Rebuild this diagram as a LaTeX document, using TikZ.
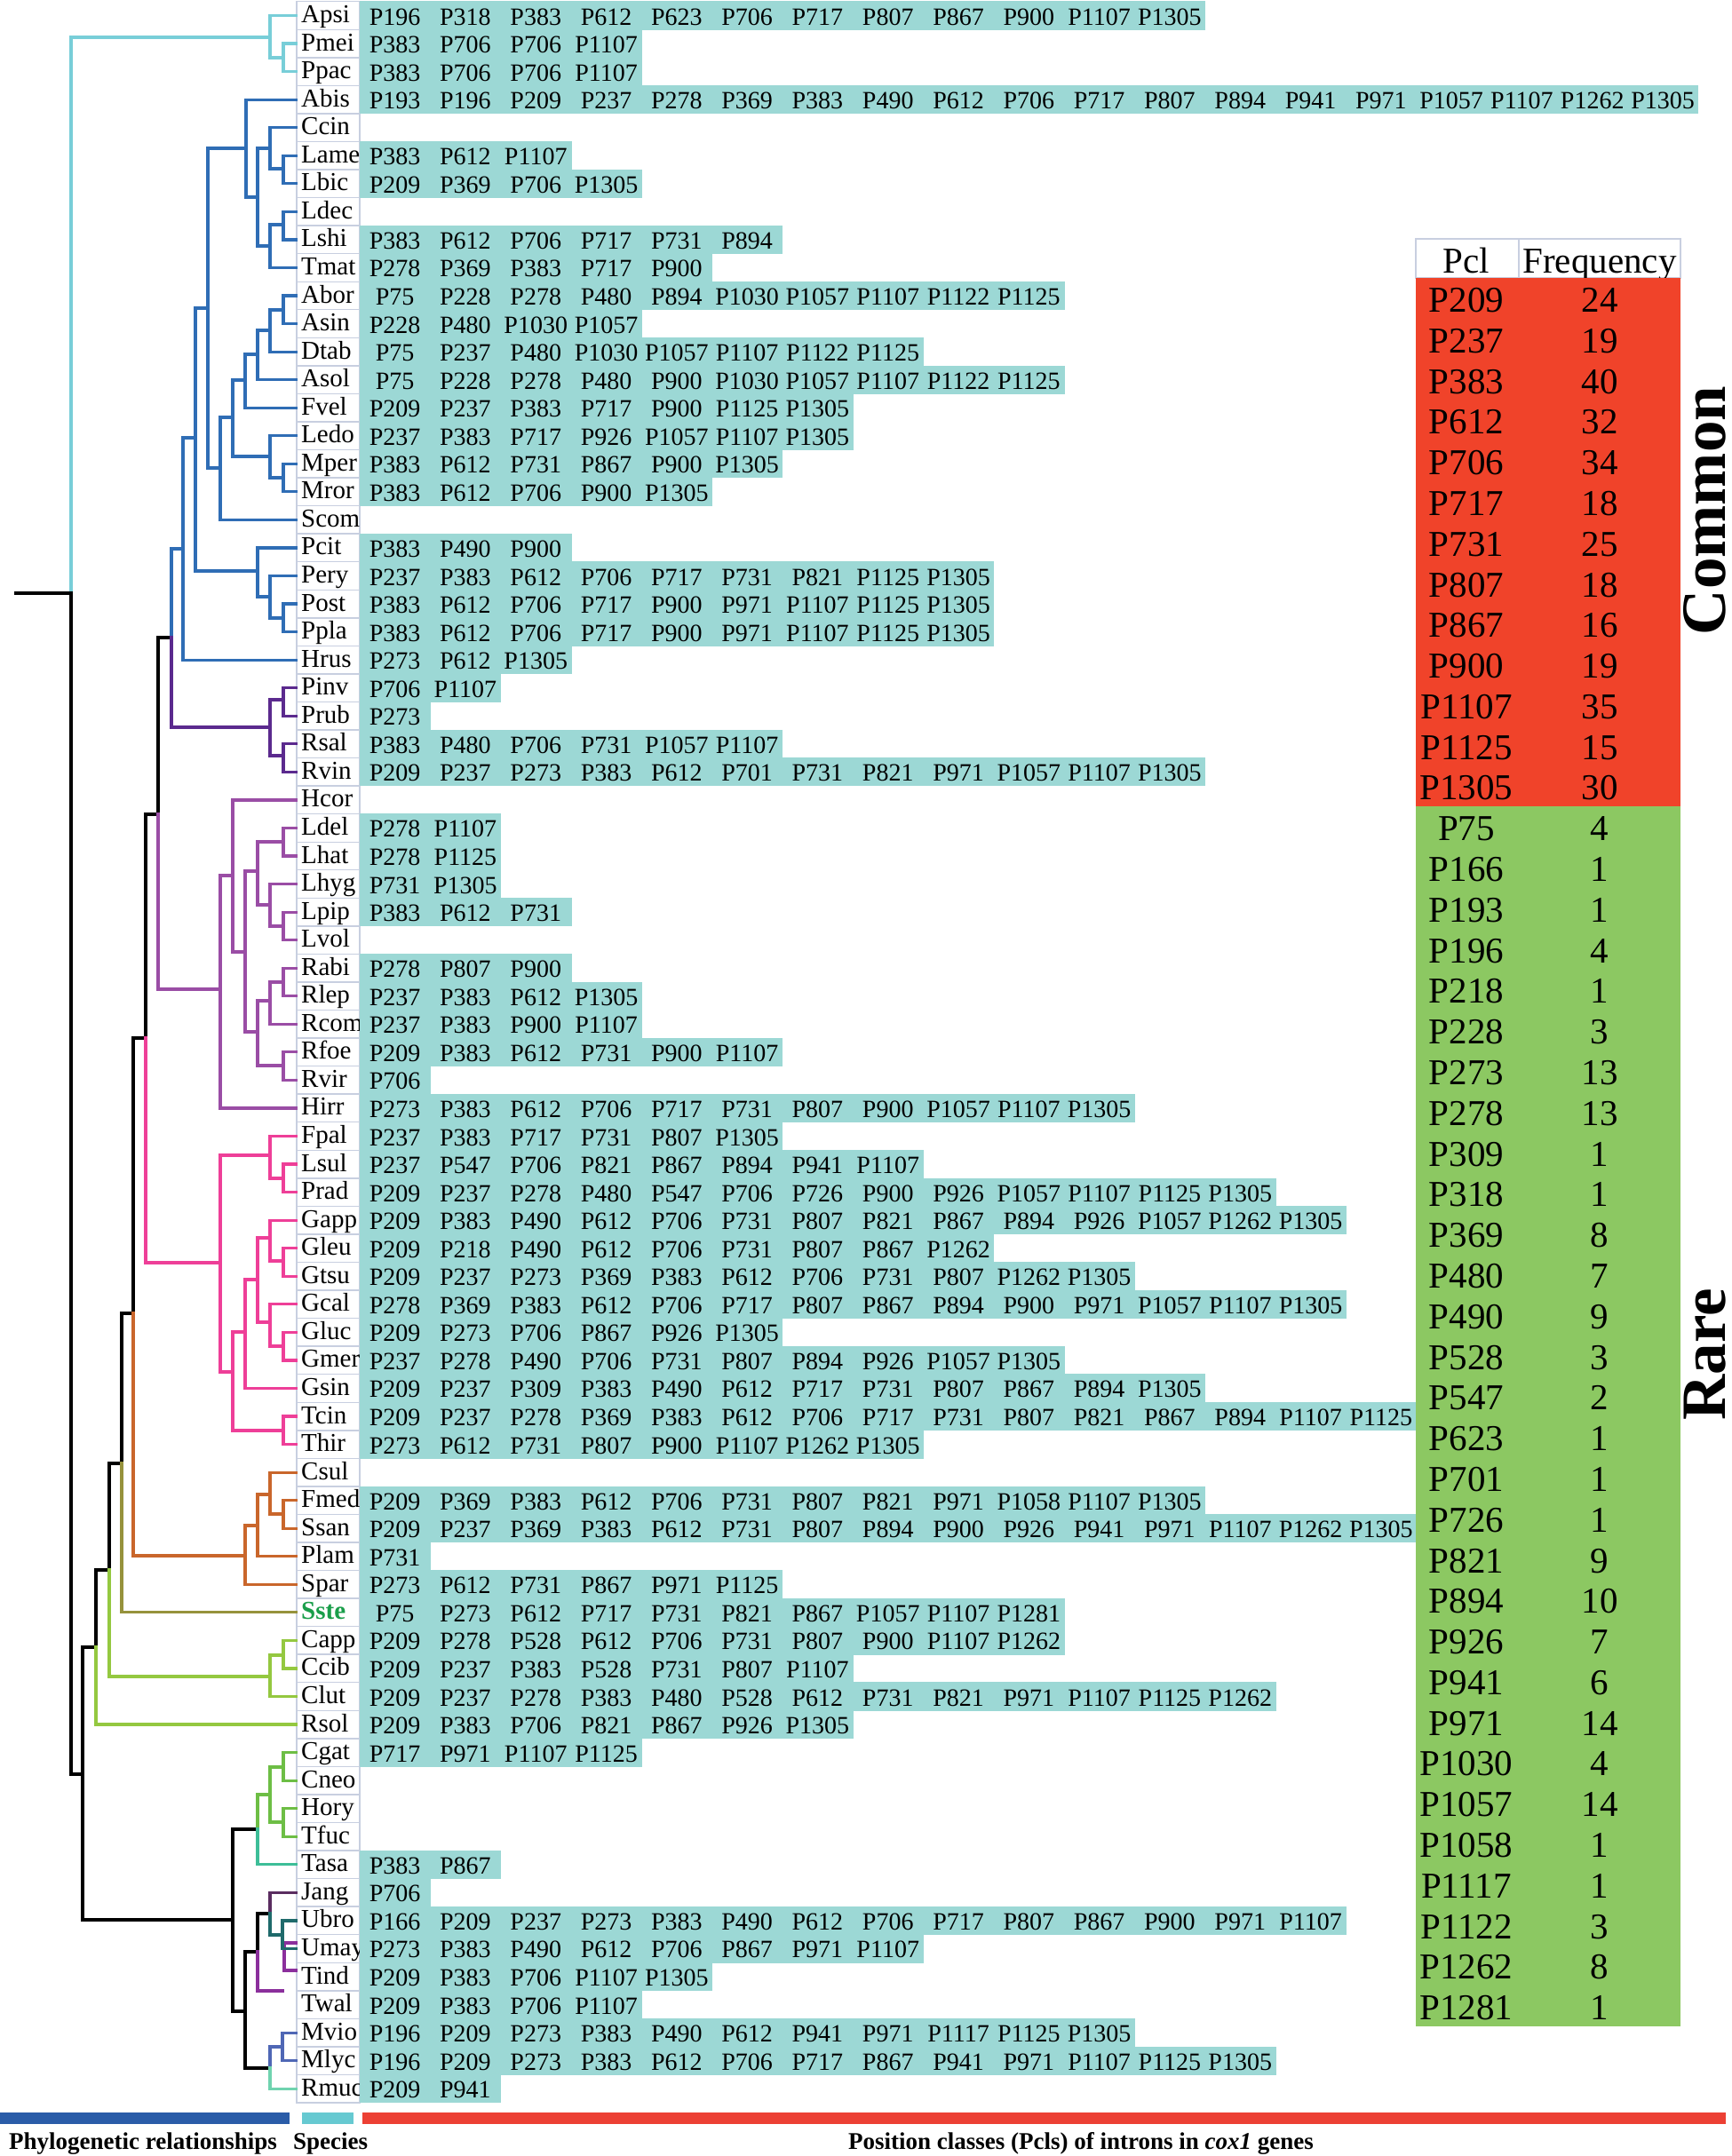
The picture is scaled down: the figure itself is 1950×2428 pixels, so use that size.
\documentclass[tikz,border=0pt]{standalone}
\usepackage{fontspec}
\setmainfont{Liberation Serif}
\definecolor{cyanl}{HTML}{78CED8}
\definecolor{bluel}{HTML}{2F6DB5}
\definecolor{purl}{HTML}{5B2A8E}
\definecolor{viol}{HTML}{9A4DA5}
\definecolor{pinkl}{HTML}{EE3F98}
\definecolor{orl}{HTML}{C9662B}
\definecolor{olivel}{HTML}{96923C}
\definecolor{lgreenl}{HTML}{94C840}
\definecolor{greenl}{HTML}{6DBE45}
\definecolor{teall}{HTML}{3DBE98}
\definecolor{dpurl}{HTML}{5A2D60}
\definecolor{dteall}{HTML}{1F6A6B}
\definecolor{pur2l}{HTML}{8B2F9C}
\definecolor{blue2l}{HTML}{4F67B5}
\definecolor{mintl}{HTML}{70D3AF}
\definecolor{cellcyan}{HTML}{9CD8D5}
\definecolor{bordc}{HTML}{C8CFE0}
\definecolor{tabred}{HTML}{F0432A}
\definecolor{tabgreen}{HTML}{8CC862}
\definecolor{barblue}{HTML}{2A5CA8}
\definecolor{barcyan}{HTML}{66C9D1}
\definecolor{barred}{HTML}{EC4034}
\definecolor{sstec}{HTML}{1A9E4A}
\begin{document}
\begin{tikzpicture}[x=1pt,y=-1pt,
  tr/.style={line width=3.2pt,line cap=rect,line join=miter},
  lab/.style={anchor=base west,inner sep=0pt,font=\fontsize{29}{30}\selectfont},
  sstelab/.style={text=sstec,font=\fontsize{29}{30}\selectfont\bfseries},
  cell/.style={anchor=base,inner sep=0pt,font=\fontsize{28}{30}\selectfont},
  tab/.style={anchor=base,inner sep=0pt,font=\fontsize{41}{42}\selectfont},
  cellborder/.style={draw=bordc,line width=1.4pt},
  bot/.style={anchor=base,inner sep=0pt,font=\fontsize{27}{28}\selectfont\bfseries},
  side/.style={anchor=base,rotate=90,inner sep=0pt,font=\fontsize{71}{72}\selectfont\bfseries}]
\useasboundingbox (0,0) rectangle (1950,2428);
\fill[white] (0,0) rectangle (1950,2428);
% species label cells
\foreach \i/\nm in {0/Apsi,1/Pmei,2/Ppac,3/Abis,4/Ccin,5/Lame,6/Lbic,7/Ldec,8/Lshi,9/Tmat,10/Abor,11/Asin,12/Dtab,13/Asol,14/Fvel,15/Ledo,16/Mper,17/Mror,18/Scom,19/Pcit,20/Pery,21/Post,22/Ppla,23/Hrus,24/Pinv,25/Prub,26/Rsal,27/Rvin,28/Hcor,29/Ldel,30/Lhat,31/Lhyg,32/Lpip,33/Lvol,34/Rabi,35/Rlep,36/Rcom,37/Rfoe,38/Rvir,39/Hirr,40/Fpal,41/Lsul,42/Prad,43/Gapp,44/Gleu,45/Gtsu,46/Gcal,47/Gluc,48/Gmer,49/Gsin,50/Tcin,51/Thir,52/Csul,53/Fmed,54/Ssan,55/Plam,56/Spar,57/Sste,58/Capp,59/Ccib,60/Clut,61/Rsol,62/Cgat,63/Cneo,64/Hory,65/Tfuc,66/Tasa,67/Jang,68/Ubro,69/Umay,70/Tind,71/Twal,72/Mvio,73/Mlyc,74/Rmuc}{
  \pgfmathsetmacro\yy{17.5+31.55*\i}
  \draw[cellborder] (334,\yy-15.78) rectangle (405,\yy+15.78);
  \ifnum\i=57
    \node[lab,sstelab] (\nm) at (339,\yy+8) {\nm};
  \else
    \node[lab] (\nm) at (339,\yy+8) {\nm};
  \fi
  \coordinate (t\nm) at (333,\yy);
}
% position class cells
\foreach \i/\lst in {0/{P196,P318,P383,P612,P623,P706,P717,P807,P867,P900,P1107,P1305},
1/{P383,P706,P706,P1107},
2/{P383,P706,P706,P1107},
3/{P193,P196,P209,P237,P278,P369,P383,P490,P612,P706,P717,P807,P894,P941,P971,P1057,P1107,P1262,P1305},
5/{P383,P612,P1107},
6/{P209,P369,P706,P1305},
8/{P383,P612,P706,P717,P731,P894},
9/{P278,P369,P383,P717,P900},
10/{P75,P228,P278,P480,P894,P1030,P1057,P1107,P1122,P1125},
11/{P228,P480,P1030,P1057},
12/{P75,P237,P480,P1030,P1057,P1107,P1122,P1125},
13/{P75,P228,P278,P480,P900,P1030,P1057,P1107,P1122,P1125},
14/{P209,P237,P383,P717,P900,P1125,P1305},
15/{P237,P383,P717,P926,P1057,P1107,P1305},
16/{P383,P612,P731,P867,P900,P1305},
17/{P383,P612,P706,P900,P1305},
19/{P383,P490,P900},
20/{P237,P383,P612,P706,P717,P731,P821,P1125,P1305},
21/{P383,P612,P706,P717,P900,P971,P1107,P1125,P1305},
22/{P383,P612,P706,P717,P900,P971,P1107,P1125,P1305},
23/{P273,P612,P1305},
24/{P706,P1107},
25/{P273},
26/{P383,P480,P706,P731,P1057,P1107},
27/{P209,P237,P273,P383,P612,P701,P731,P821,P971,P1057,P1107,P1305},
29/{P278,P1107},
30/{P278,P1125},
31/{P731,P1305},
32/{P383,P612,P731},
34/{P278,P807,P900},
35/{P237,P383,P612,P1305},
36/{P237,P383,P900,P1107},
37/{P209,P383,P612,P731,P900,P1107},
38/{P706},
39/{P273,P383,P612,P706,P717,P731,P807,P900,P1057,P1107,P1305},
40/{P237,P383,P717,P731,P807,P1305},
41/{P237,P547,P706,P821,P867,P894,P941,P1107},
42/{P209,P237,P278,P480,P547,P706,P726,P900,P926,P1057,P1107,P1125,P1305},
43/{P209,P383,P490,P612,P706,P731,P807,P821,P867,P894,P926,P1057,P1262,P1305},
44/{P209,P218,P490,P612,P706,P731,P807,P867,P1262},
45/{P209,P237,P273,P369,P383,P612,P706,P731,P807,P1262,P1305},
46/{P278,P369,P383,P612,P706,P717,P807,P867,P894,P900,P971,P1057,P1107,P1305},
47/{P209,P273,P706,P867,P926,P1305},
48/{P237,P278,P490,P706,P731,P807,P894,P926,P1057,P1305},
49/{P209,P237,P309,P383,P490,P612,P717,P731,P807,P867,P894,P1305},
50/{P209,P237,P278,P369,P383,P612,P706,P717,P731,P807,P821,P867,P894,P1107,P1125},
51/{P273,P612,P731,P807,P900,P1107,P1262,P1305},
53/{P209,P369,P383,P612,P706,P731,P807,P821,P971,P1058,P1107,P1305},
54/{P209,P237,P369,P383,P612,P731,P807,P894,P900,P926,P941,P971,P1107,P1262,P1305},
55/{P731},
56/{P273,P612,P731,P867,P971,P1125},
57/{P75,P273,P612,P717,P731,P821,P867,P1057,P1107,P1281},
58/{P209,P278,P528,P612,P706,P731,P807,P900,P1107,P1262},
59/{P209,P237,P383,P528,P731,P807,P1107},
60/{P209,P237,P278,P383,P480,P528,P612,P731,P821,P971,P1107,P1125,P1262},
61/{P209,P383,P706,P821,P867,P926,P1305},
62/{P717,P971,P1107,P1125},
66/{P383,P867},
67/{P706},
68/{P166,P209,P237,P273,P383,P490,P612,P706,P717,P807,P867,P900,P971,P1107},
69/{P273,P383,P490,P612,P706,P867,P971,P1107},
70/{P209,P383,P706,P1107,P1305},
71/{P209,P383,P706,P1107},
72/{P196,P209,P273,P383,P490,P612,P941,P971,P1117,P1125,P1305},
73/{P196,P209,P273,P383,P612,P706,P717,P867,P941,P971,P1107,P1125,P1305},
74/{P209,P941}}{
  \pgfmathsetmacro\yy{17.5+31.55*\i}
  \foreach \p [count=\k] in \lst {
    \fill[cellcyan] (405+79.3*\k-79.3,\yy-16.1) rectangle (405+79.3*\k+0.6,\yy+16.1);
  }
  \foreach \p [count=\k] in \lst {
    \node[cell] (c\i-\k) at (405+79.3*\k-39.65,\yy+10.5) {\p};
  }
}
% ---------- tree ----------
\coordinate (R0) at (18,668);   \coordinate (R) at (80,668);
\coordinate (Cy) at (304,42);   \coordinate (PP) at (319,65);
\coordinate (K1) at (93,1998);  \coordinate (J1) at (108,1855);
\coordinate (I1) at (123,1768); \coordinate (Cg) at (304,1888);
\coordinate (CC) at (319,1864); \coordinate (H1) at (137,1648);
\coordinate (G1) at (150,1479); \coordinate (F1) at (164,1169);
\coordinate (E1) at (178,917);  \coordinate (D1) at (193,718);
\coordinate (C2) at (206,618);  \coordinate (C1) at (220,493);
\coordinate (B0) at (234,347);  \coordinate (A1) at (277,167);
\coordinate (A2) at (290,222);  \coordinate (A3) at (304,167);
\coordinate (A4) at (319,190);  \coordinate (A5) at (304,277);
\coordinate (A6) at (319,253);  \coordinate (B1) at (248,527);
\coordinate (B2) at (262,470);  \coordinate (B3) at (276,428);
\coordinate (B4) at (290,399);  \coordinate (B5) at (304,372);
\coordinate (B6) at (319,349);  \coordinate (B7) at (304,514);
\coordinate (B8) at (319,538);  \coordinate (Pg) at (290,643);
\coordinate (Pg2) at (304,672); \coordinate (Pg3) at (319,696);
\coordinate (Pu) at (304,819);  \coordinate (Pu1) at (319,788);
\coordinate (Pu2) at (319,851); \coordinate (Vi) at (248,1114);
\coordinate (V1) at (262,986);  \coordinate (V2) at (276,1072);
\coordinate (V3) at (290,981);  \coordinate (V4) at (319,948);
\coordinate (V5) at (304,1019); \coordinate (V5b) at (319,1043);
\coordinate (V6) at (290,1162); \coordinate (V7) at (304,1127);
\coordinate (V7b) at (319,1106);\coordinate (V8) at (319,1200);
\coordinate (Pk) at (248,1422); \coordinate (Pk1) at (304,1301);
\coordinate (Pk1b) at (319,1327);\coordinate (Pk2) at (262,1545);
\coordinate (Pk3) at (276,1500);\coordinate (Pk4) at (290,1441);
\coordinate (Pk5) at (304,1394);\coordinate (Pk5b) at (319,1420);
\coordinate (Pk6) at (304,1489);\coordinate (Pk6b) at (319,1516);
\coordinate (Pk8) at (319,1611);\coordinate (Or) at (276,1752);
\coordinate (Or1) at (290,1718);\coordinate (Or2) at (304,1683);
\coordinate (Or3) at (319,1705);\coordinate (Ln) at (262,2162);
\coordinate (M1) at (290,2060); \coordinate (M2) at (304,2021);
\coordinate (M3) at (319,1990); \coordinate (M4) at (319,2052);
\coordinate (N1) at (276,2265); \coordinate (O1) at (290,2198);
\coordinate (Ostub) at (318,2242);\coordinate (Q1) at (304,2155);
\coordinate (T1) at (318,2179); \coordinate (U1) at (320,2203);
\coordinate (uA) at (333,2188); \coordinate (uB) at (333,2219);
\coordinate (S1) at (304,2329); \coordinate (S2) at (318,2305);
% root and cyan clade
\draw[tr,black] (R0) -- (R);
\draw[tr,cyanl] (R) |- (Cy);
\draw[tr,cyanl] (Cy) |- (tApsi);
\draw[tr,cyanl] (Cy) |- (PP);
\draw[tr,cyanl] (PP) |- (tPmei);
\draw[tr,cyanl] (PP) |- (tPpac);
\draw[tr,black] (R) |- (K1);
% backbone
\draw[tr,black] (K1) |- (J1);
\draw[tr,black] (K1) |- (Ln);
\draw[tr,black] (J1) |- (I1);
\draw[tr,lgreenl] (J1) |- (tRsol);
\draw[tr,black] (I1) |- (H1);
\draw[tr,lgreenl] (I1) |- (Cg);
\draw[tr,lgreenl] (Cg) |- (CC);
\draw[tr,lgreenl] (Cg) |- (tClut);
\draw[tr,lgreenl] (CC) |- (tCapp);
\draw[tr,lgreenl] (CC) |- (tCcib);
\draw[tr,black] (H1) |- (G1);
\draw[tr,olivel] (H1) |- (tSste);
\draw[tr,black] (G1) |- (F1);
\draw[tr,orl] (G1) |- (Or);
\draw[tr,black] (F1) |- (E1);
\draw[tr,pinkl] (F1) |- (Pk);
\draw[tr,black] (E1) |- (D1);
\draw[tr,viol] (E1) |- (Vi);
\draw[tr,bluel] (D1) |- (C2);
\draw[tr,purl] (D1) |- (Pu);
% blue clade
\draw[tr,bluel] (C2) |- (C1);
\draw[tr,bluel] (C2) |- (tHrus);
\draw[tr,bluel] (C1) |- (B0);
\draw[tr,bluel] (C1) |- (Pg);
\draw[tr,bluel] (B0) |- (A1);
\draw[tr,bluel] (B0) |- (B1);
\draw[tr,bluel] (A1) |- (tAbis);
\draw[tr,bluel] (A1) |- (A2);
\draw[tr,bluel] (A2) |- (A3);
\draw[tr,bluel] (A2) |- (A5);
\draw[tr,bluel] (A3) |- (tCcin);
\draw[tr,bluel] (A3) |- (A4);
\draw[tr,bluel] (A4) |- (tLame);
\draw[tr,bluel] (A4) |- (tLbic);
\draw[tr,bluel] (A5) |- (A6);
\draw[tr,bluel] (A5) |- (tTmat);
\draw[tr,bluel] (A6) |- (tLdec);
\draw[tr,bluel] (A6) |- (tLshi);
\draw[tr,bluel] (B1) |- (B2);
\draw[tr,bluel] (B1) |- (tScom);
\draw[tr,bluel] (B2) |- (B3);
\draw[tr,bluel] (B2) |- (B7);
\draw[tr,bluel] (B3) |- (B4);
\draw[tr,bluel] (B3) |- (tFvel);
\draw[tr,bluel] (B4) |- (B5);
\draw[tr,bluel] (B4) |- (tAsol);
\draw[tr,bluel] (B5) |- (B6);
\draw[tr,bluel] (B5) |- (tDtab);
\draw[tr,bluel] (B6) |- (tAbor);
\draw[tr,bluel] (B6) |- (tAsin);
\draw[tr,bluel] (B7) |- (tLedo);
\draw[tr,bluel] (B7) |- (B8);
\draw[tr,bluel] (B8) |- (tMper);
\draw[tr,bluel] (B8) |- (tMror);
\draw[tr,bluel] (Pg) |- (tPcit);
\draw[tr,bluel] (Pg) |- (Pg2);
\draw[tr,bluel] (Pg2) |- (tPery);
\draw[tr,bluel] (Pg2) |- (Pg3);
\draw[tr,bluel] (Pg3) |- (tPost);
\draw[tr,bluel] (Pg3) |- (tPpla);
% purple clade
\draw[tr,purl] (Pu) |- (Pu1);
\draw[tr,purl] (Pu) |- (Pu2);
\draw[tr,purl] (Pu1) |- (tPinv);
\draw[tr,purl] (Pu1) |- (tPrub);
\draw[tr,purl] (Pu2) |- (tRsal);
\draw[tr,purl] (Pu2) |- (tRvin);
% violet clade
\draw[tr,viol] (Vi) |- (V1);
\draw[tr,viol] (Vi) |- (tHirr);
\draw[tr,viol] (V1) |- (tHcor);
\draw[tr,viol] (V1) |- (V2);
\draw[tr,viol] (V2) |- (V3);
\draw[tr,viol] (V2) |- (V6);
\draw[tr,viol] (V3) |- (V4);
\draw[tr,viol] (V3) |- (V5);
\draw[tr,viol] (V4) |- (tLdel);
\draw[tr,viol] (V4) |- (tLhat);
\draw[tr,viol] (V5) |- (tLhyg);
\draw[tr,viol] (V5) |- (V5b);
\draw[tr,viol] (V5b) |- (tLpip);
\draw[tr,viol] (V5b) |- (tLvol);
\draw[tr,viol] (V6) |- (V7);
\draw[tr,viol] (V6) |- (V8);
\draw[tr,viol] (V7) |- (V7b);
\draw[tr,viol] (V7) |- (tRcom);
\draw[tr,viol] (V7b) |- (tRabi);
\draw[tr,viol] (V7b) |- (tRlep);
\draw[tr,viol] (V8) |- (tRfoe);
\draw[tr,viol] (V8) |- (tRvir);
% pink clade
\draw[tr,pinkl] (Pk) |- (Pk1);
\draw[tr,pinkl] (Pk) |- (Pk2);
\draw[tr,pinkl] (Pk1) |- (tFpal);
\draw[tr,pinkl] (Pk1) |- (Pk1b);
\draw[tr,pinkl] (Pk1b) |- (tLsul);
\draw[tr,pinkl] (Pk1b) |- (tPrad);
\draw[tr,pinkl] (Pk2) |- (Pk3);
\draw[tr,pinkl] (Pk2) |- (Pk8);
\draw[tr,pinkl] (Pk3) |- (Pk4);
\draw[tr,pinkl] (Pk3) |- (tGsin);
\draw[tr,pinkl] (Pk4) |- (Pk5);
\draw[tr,pinkl] (Pk4) |- (Pk6);
\draw[tr,pinkl] (Pk5) |- (tGapp);
\draw[tr,pinkl] (Pk5) |- (Pk5b);
\draw[tr,pinkl] (Pk5b) |- (tGleu);
\draw[tr,pinkl] (Pk5b) |- (tGtsu);
\draw[tr,pinkl] (Pk6) |- (tGcal);
\draw[tr,pinkl] (Pk6) |- (Pk6b);
\draw[tr,pinkl] (Pk6b) |- (tGluc);
\draw[tr,pinkl] (Pk6b) |- (tGmer);
\draw[tr,pinkl] (Pk8) |- (tTcin);
\draw[tr,pinkl] (Pk8) |- (tThir);
% orange clade
\draw[tr,orl] (Or) |- (Or1);
\draw[tr,orl] (Or) |- (tSpar);
\draw[tr,orl] (Or1) |- (Or2);
\draw[tr,orl] (Or1) |- (tPlam);
\draw[tr,orl] (Or2) |- (tCsul);
\draw[tr,orl] (Or2) |- (Or3);
\draw[tr,orl] (Or3) |- (tFmed);
\draw[tr,orl] (Or3) |- (tSsan);
% lower clades
\draw[tr,black] (Ln) |- (M1);
\draw[tr,black] (Ln) |- (N1);
\draw[tr,greenl] (M1) |- (M2);
\draw[tr,teall] (M1) |- (tTasa);
\draw[tr,greenl] (M2) |- (M3);
\draw[tr,greenl] (M2) |- (M4);
\draw[tr,greenl] (M3) |- (tCgat);
\draw[tr,greenl] (M3) |- (tCneo);
\draw[tr,greenl] (M4) |- (tHory);
\draw[tr,greenl] (M4) |- (tTfuc);
\draw[tr,black] (N1) |- (O1);
\draw[tr,black] (N1) |- (S1);
\draw[tr,black] (O1) |- (Q1);
\draw[tr,pur2l] (O1) |- (Ostub);
\draw[tr,pur2l] (U1) |- (uA);
\draw[tr,pur2l] (U1) |- (uB);
\draw[tr,dpurl] (Q1) |- (tJang);
\draw[tr,dteall] (Q1) |- (T1);
\draw[tr,dteall] (T1) |- (tUbro);
\draw[tr,dteall] (T1) |- (tUmay);
\draw[tr,blue2l] (S1) |- (S2);
\draw[tr,mintl] (S1) |- (tRmuc);
\draw[tr,blue2l] (S2) |- (tMvio);
\draw[tr,blue2l] (S2) |- (tMlyc);
% ---------- table ----------
\draw[draw=bordc,line width=1.4pt,fill=white] (1594,269) rectangle (1892,313);
\draw[draw=bordc,line width=1.4pt] (1710,269) -- (1710,313);
\node[tab] (hPcl) at (1651,307) {Pcl};
\node[tab] (hFreq) at (1801,307) {Frequency};
\fill[tabred] (1594,313) rectangle (1892,908.3);
\fill[tabgreen] (1594,908.3) rectangle (1892,2282);
\foreach \p/\f [count=\k from 0] in {P209/24,P237/19,P383/40,P612/32,P706/34,P717/18,P731/25,P807/18,P867/16,P900/19,P1107/35,P1125/15,P1305/30,P75/4,P166/1,P193/1,P196/4,P218/1,P228/3,P273/13,P278/13,P309/1,P318/1,P369/8,P480/7,P490/9,P528/3,P547/2,P623/1,P701/1,P726/1,P821/9,P894/10,P926/7,P941/6,P971/14,P1030/4,P1057/14,P1058/1,P1117/1,P1122/3,P1262/8,P1281/1}{
  \pgfmathsetmacro\ty{351.5+45.79*\k}
  \node[tab] (pc\k) at (1651,\ty) {\p};
  \node[tab] (fq\k) at (1801,\ty) {\f};
}
\node[side] (common) at (1942,575) {Common};
\node[side] (rare) at (1942,1525) {Rare};
% ---------- bottom bars ----------
\fill[barblue] (0,2379) rectangle (326,2392);
\fill[barcyan] (340,2379) rectangle (398,2392);
\fill[barred] (408,2379) rectangle (1943,2392);
\node[bot] (lphy) at (161,2420) {Phylogenetic relationships};
\node[bot] (lspe) at (372,2420) {Species};
\node[bot] (lpos) at (1217,2420) {Position classes (Pcls) of introns in \textit{cox1} genes};
\end{tikzpicture}
\end{document}
